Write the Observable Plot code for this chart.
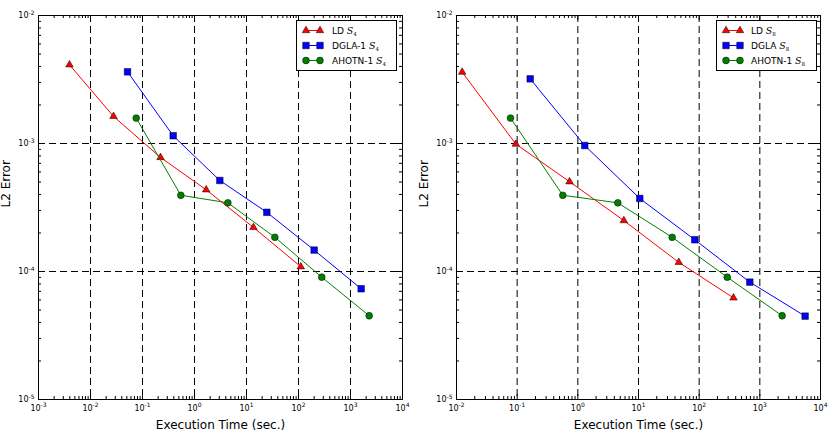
<!DOCTYPE html>
<html><head><meta charset="utf-8">
<script src="https://cdn.jsdelivr.net/npm/d3@7"></script>
<script src="https://cdn.jsdelivr.net/npm/@observablehq/plot@0.6"></script>
<style>
body{margin:0;background:#fff;font-family:"DejaVu Sans";}
#row{display:flex;width:834px;height:440px;}
.panel{position:relative;width:417px;height:440px;}
.legend{position:absolute;border:1px solid #000;background:#fff;box-sizing:border-box;font:9px "DejaVu Sans";color:#000;}
.lrow{position:absolute;left:0;width:100%;height:15px;line-height:15px;white-space:nowrap;}
.lrow svg{position:absolute;left:5px;top:2px;}
.lrow .t{position:absolute;top:0;}
.m{font-family:"DejaVu Serif";font-style:italic;font-size:9.5px;}
.sub{font-family:"DejaVu Serif";font-size:5.5px;position:relative;top:2px;}
</style></head><body><div id="row"></div><script>
// ---- data ----
const ldS4Time   = [0.00394, 0.0277, 0.222, 1.68, 13.6, 110.7];
const ldS4Err    = [4.12e-3, 1.63e-3, 7.78e-4, 4.35e-4, 2.21e-4, 1.09e-4];
const dglaS4Time = [0.0515, 0.389, 3.07, 24.6, 200, 1603];
const dglaS4Err  = [3.63e-3, 1.15e-3, 5.14e-4, 2.90e-4, 1.47e-4, 7.33e-5];
const ahotnS4Time= [0.0757, 0.546, 4.38, 35.1, 280, 2290];
const ahotnS4Err = [1.58e-3, 3.94e-4, 3.44e-4, 1.85e-4, 9.03e-5, 4.51e-5];

const ldS8Time   = [0.0124, 0.095, 0.73, 5.73, 46.1, 368];
const ldS8Err    = [3.61e-3, 9.9e-4, 5.03e-4, 2.50e-4, 1.18e-4, 6.22e-5];
const dglaS8Time = [0.164, 1.30, 10.5, 84.7, 684, 5580];
const dglaS8Err  = [3.2e-3, 9.64e-4, 3.72e-4, 1.77e-4, 8.26e-5, 4.48e-5];
const ahotnS8Time= [0.0777, 0.565, 4.56, 35.9, 290, 2333];
const ahotnS8Err = [1.58e-3, 3.94e-4, 3.44e-4, 1.85e-4, 9.03e-5, 4.51e-5];

const xExpLeft  = [-3, -2, -1, 0, 1, 2, 3, 4];
const xExpRight = [-2, -1, 0, 1, 2, 3, 4];
const yExp      = [-5, -4, -3, -2];
const namesLeft  = ["LD", "DGLA-1", "AHOTN-1"];
const namesRight = ["LD", "DGLA", "AHOTN-1"];
const subLeft = "4", subRight = "8";
const xTitle = "Execution Time (sec.)";
const yTitle = "L2 Error";

const colors  = ["#ff0000", "#0000ff", "#008000"];
const symbols = ["triangle", "square", "circle"];
const radii   = [2.8, 3.7, 3.4];

const zip = (xs, ys) => xs.map((x, i) => ({x, y: ys[i]}));
const fmtExp = e => String(e);

function makePanel(cfg) {
  const {xExp, series, mL, mR, names, sub, legendLeft, legendText} = cfg;
  const W = 417, H = 440, mT = 15, mB = 41;
  const xmin = Math.pow(10, xExp[0]), xmax = Math.pow(10, xExp[xExp.length - 1]);
  const ymin = Math.pow(10, yExp[0]), ymax = Math.pow(10, yExp[yExp.length - 1]);
  const pxDecX = (W - mL - mR) / (xExp.length - 1);
  const pxDecY = (H - mT - mB) / (yExp.length - 1);
  const fx = l => Math.pow(10, l / pxDecX), fy = l => Math.pow(10, l / pxDecY);
  const minorOf = exps => exps.slice(0, -1).flatMap(e => [2,3,4,5,6,7,8,9].map(m => m * Math.pow(10, e)));
  const xMaj = xExp.map(e => Math.pow(10, e)), yMaj = yExp.map(e => Math.pow(10, e));
  const xMin = minorOf(xExp), yMin = minorOf(yExp);
  const tickMarks = (len, xs, ys) => [
    Plot.ruleX(xs, {x: d => d, y1: d => ymin, y2: d => ymin * fy(len), stroke: "#000", strokeWidth: 1}),
    Plot.ruleX(xs, {x: d => d, y1: d => ymax, y2: d => ymax / fy(len), stroke: "#000", strokeWidth: 1}),
    Plot.ruleY(ys, {y: d => d, x1: d => xmin, x2: d => xmin * fx(len), stroke: "#000", strokeWidth: 1}),
    Plot.ruleY(ys, {y: d => d, x1: d => xmax, x2: d => xmax / fx(len), stroke: "#000", strokeWidth: 1})
  ];
  const dataMarks = series.flatMap((s, i) => [
    Plot.line(s, {x: "x", y: "y", stroke: colors[i], strokeWidth: 1}),
    Plot.dot(s, {x: "x", y: "y", symbol: symbols[i], r: radii[i], fill: colors[i], stroke: "#000", strokeWidth: 0.5})
  ]);
  const svg = Plot.plot({
    width: W, height: H, marginLeft: mL, marginRight: mR, marginTop: mT, marginBottom: mB,
    style: {fontFamily: '"DejaVu Sans"', fontSize: "8px", background: "#fff", overflow: "visible"},
    x: {type: "log", domain: [xmin, xmax], axis: null},
    y: {type: "log", domain: [ymin, ymax], axis: null},
    marks: [
      Plot.ruleX(xMaj.slice(1, -1), {x: d => d, stroke: "#000", strokeWidth: 1, strokeDasharray: "7,4"}),
      Plot.ruleY(yMaj.slice(1, -1), {y: d => d, stroke: "#000", strokeWidth: 1, strokeDasharray: "7,4"}),
      ...tickMarks(5, xMaj, yMaj),
      ...tickMarks(3, xMin, yMin),
      ...dataMarks,
      Plot.frame({stroke: "#000", strokeWidth: 1}),
      Plot.text(xExp, {x: e => Math.pow(10, e), text: e => fmtExp(e), frameAnchor: "bottom", dy: 11, textAnchor: "middle", fontSize: 8}),
      Plot.text(yExp, {y: e => Math.pow(10, e), text: e => fmtExp(e), frameAnchor: "left", dx: -4, textAnchor: "end", fontSize: 8}),
      Plot.text([xTitle], {text: d => d, frameAnchor: "bottom", dy: 29, fontSize: 12}),
      Plot.text([yTitle], {text: d => d, frameAnchor: "left", dx: -32, rotate: -90, fontSize: 12})
    ]
  });
  d3.select(svg).selectAll("text").each(function() {
    const e = this.textContent;
    if (!/^[\u2212-]?\d$/.test(e)) return;
    const t = d3.select(this);
    t.text(null);
    t.append("tspan").text("10");
    t.append("tspan").attr("dy", "-3.5").attr("font-size", "6px").text(e);
  });
  const panel = document.createElement("div");
  panel.className = "panel";
  panel.appendChild(svg);
  // legend
  const lg = d3.select(panel).append("div").attr("class", "legend")
    .style("left", legendLeft + "px").style("top", "20px").style("width", "101px").style("height", "51px");
  names.forEach((name, i) => {
    const row = lg.append("div").attr("class", "lrow").style("top", (1.5 + i * 15) + "px");
    const s = row.append("svg").attr("width", 22).attr("height", 11);
    s.append("line").attr("x1", 4).attr("x2", 18).attr("y1", 5.5).attr("y2", 5.5).attr("stroke", colors[i]).attr("stroke-width", 1);
    const sym = {triangle: d3.symbolTriangle, square: d3.symbolSquare, circle: d3.symbolCircle}[symbols[i]];
    const path = d3.symbol(sym, Math.PI * radii[i] * radii[i])();
    [4, 18].forEach(cx => s.append("path").attr("d", path).attr("transform", `translate(${cx},5.5)`)
      .attr("fill", colors[i]).attr("stroke", "#000").attr("stroke-width", 0.5));
    const t = row.append("span").attr("class", "t").style("left", legendText + "px");
    t.append("span").text(name + " ");
    t.append("span").attr("class", "m").text("S");
    t.append("span").attr("class", "sub").text(sub);
  });
  return panel;
}

const row = document.getElementById("row");
row.appendChild(makePanel({
  xExp: xExpLeft, mL: 38, mR: 15, names: namesLeft, sub: subLeft, legendLeft: 296, legendText: 35,
  series: [zip(ldS4Time, ldS4Err), zip(dglaS4Time, dglaS4Err), zip(ahotnS4Time, ahotnS4Err)]
}));
row.appendChild(makePanel({
  xExp: xExpRight, mL: 39, mR: 14, names: namesRight, sub: subRight, legendLeft: 299, legendText: 34,
  series: [zip(ldS8Time, ldS8Err), zip(dglaS8Time, dglaS8Err), zip(ahotnS8Time, ahotnS8Err)]
}));
</script></body></html>
